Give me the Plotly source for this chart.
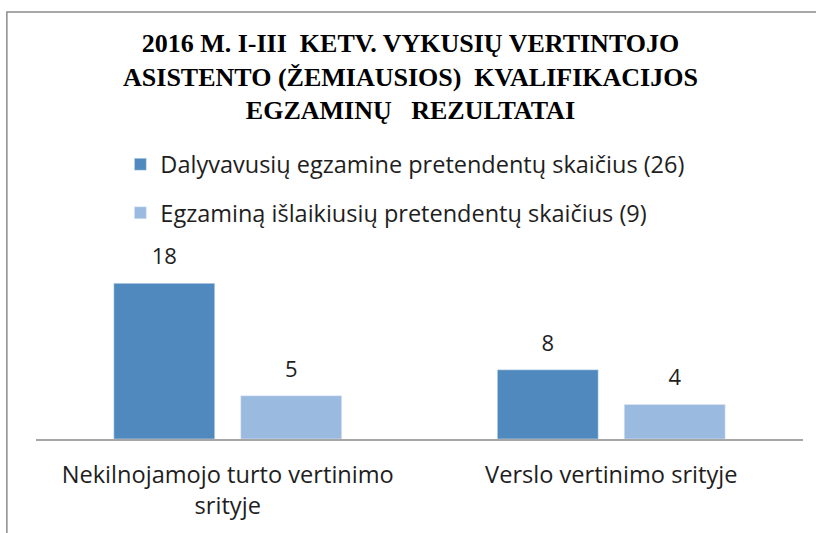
import plotly.graph_objects as go

categories = ["Nekilnojamojo turto vertinimo<br>srityje", "Verslo vertinimo srityje"]
series_names = ["Dalyvavusių egzamine pretendentų skaičius (26)",
                "Egzaminą išlaikiusių pretendentų skaičius (9)"]
participated = [18, 8]
passed = [5, 4]
colors = ["#4F89BD", "#9BBAE0"]

title_text = ("<b>2016 M. I-III  KETV. VYKUSIŲ VERTINTOJO<br>"
              "ASISTENTO (ŽEMIAUSIOS)  KVALIFIKACIJOS<br>"
              "EGZAMINŲ   REZULTATAI</b>")

sans = "Open Sans, Calibri, sans-serif"
ink = "#1e1e1e"

fig = go.Figure()
for i, (name, vals) in enumerate(zip(series_names, [participated, passed])):
    fig.add_trace(go.Bar(
        x=categories, y=vals, name=name,
        marker_color=colors[i], legendgroup=str(i), offsetgroup=str(i),
    ))
# value labels: grouped scatter text sitting above each bar
for i, vals in enumerate([participated, passed]):
    fig.add_trace(go.Scatter(
        x=categories, y=vals, mode="markers+text", text=vals,
        textposition="top center", offsetgroup=str(i), showlegend=False,
        marker=dict(size=20, color="rgba(0,0,0,0)"), cliponaxis=False,
        textfont=dict(family=sans, size=22, color=ink), hoverinfo="skip",
    ))

# chart border (grey frame around the whole chart)
fig.add_shape(type="rect", xref="paper", yref="paper",
              x0=-0.038, x1=1.2, y0=-1.0, y1=2.468,
              line=dict(color="#8c8c8c", width=1.5))

fig.update_layout(
    width=816, height=533,
    margin=dict(l=36, r=13, t=266, b=94, autoexpand=False),
    paper_bgcolor="white", plot_bgcolor="white",
    barmode="group", bargap=0.338, bargroupgap=0.205,
    scattermode="group", scattergap=0.338,
    title=dict(text=title_text, x=0.503, xanchor="center", y=0.903, yanchor="top",
               font=dict(family="Liberation Serif, Times New Roman, serif", size=26, color="black")),
    legend=dict(x=0.11, y=1.714, xanchor="left", yanchor="top",
                traceorder="grouped", tracegroupgap=15,
                font=dict(family=sans, size=23.5, color=ink)),
    showlegend=True,
)
fig.update_xaxes(showline=True, linecolor="#a6a6a6", linewidth=1.5, automargin=False,
                 ticks="", ticklabelstandoff=14,
                 tickfont=dict(family=sans, size=23.6, color=ink))
fig.update_yaxes(range=[0, 20], visible=False, showgrid=False, automargin=False)

fig.write_html("out.html", config={"displayModeBar": False},
               post_script="document.body.style.margin='0px';")
